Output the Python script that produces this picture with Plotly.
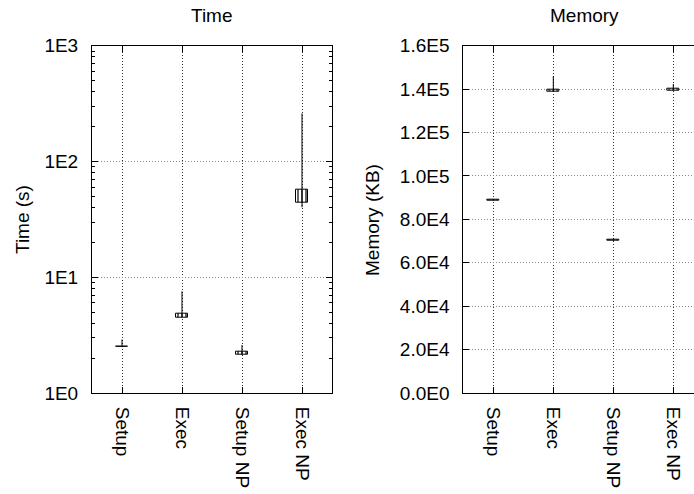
import plotly.graph_objects as go

categories = ["Setup", "Exec", "Setup NP", "Exec NP"]
cat_pos = [1, 2, 3, 4]

# Time (s): box bottom/top, whisker low/high
time_open = [2.49, 4.51, 2.14, 44.0]
time_close = [2.51, 4.81, 2.29, 57.4]
time_low = [2.49, 4.51, 2.14, 40.2]
time_high = [2.9, 7.55, 2.6, 260.0]

# Memory (KB)
mem_open = [88700, 138700, 70200, 139300]
mem_close = [89200, 139950, 70700, 140400]
mem_low = [88700, 138700, 70200, 139300]
mem_high = [89200, 146000, 70700, 142400]

time_ticks = [1, 10, 100, 1000]
time_ticktext = ["1E0", "1E1", "1E2", "1E3"]
time_minor = [m * d for d in [1, 10, 100] for m in range(2, 10)]
mem_ticks = [0, 20000, 40000, 60000, 80000, 100000, 120000, 140000, 160000]
mem_ticktext = ["0.0E0", "2.0E4", "4.0E4", "6.0E4", "8.0E4", "1.0E5", "1.2E5", "1.4E5", "1.6E5"]

W, H = 694, 494
FONT = "Liberation Sans, Arial, sans-serif"
FS = 19

fig = go.Figure()

def add_panel(xa, ya, opn, cls, low, high):
    xs, ys = [], []
    for x, lo, hi in zip(cat_pos, low, high):
        xs += [x, x, None]
        ys += [lo, hi, None]
    fig.add_trace(go.Scatter(x=xs, y=ys, mode="lines", line=dict(color="black", width=1),
                             xaxis=xa, yaxis=ya, showlegend=False, hoverinfo="skip"))
    fig.add_trace(go.Bar(x=cat_pos, y=[c - o for o, c in zip(opn, cls)], base=opn, width=0.21,
                         marker=dict(color="white", line=dict(color="black", width=1),
                                     pattern=dict(shape="|", fgcolor="black", bgcolor="white",
                                                  size=4, solidity=0.3)),
                         xaxis=xa, yaxis=ya, showlegend=False))

add_panel("x", "y", time_open, time_close, time_low, time_high)
add_panel("x2", "y2", mem_open, mem_close, mem_low, mem_high)

left_dom = [92 / W, 332 / W]
right_dom = [463.3 / W, 1.0]
ydom = [(H - 393) / H, (H - 45.7) / H]

tfont = dict(family=FONT, size=FS, color="black")
DOT = "1px,2px"

xcommon = dict(tickmode="array", tickvals=cat_pos, ticktext=categories, tickangle=90,
               showline=True, linecolor="black", linewidth=1, mirror="ticks",
               ticks="inside", ticklen=6, tickcolor="black",
               showgrid=True, gridcolor="#333333", griddash=DOT, gridwidth=1,
               zeroline=False, tickfont=tfont, ticklabelstandoff=9, automargin=False)

fig.update_layout(
    template="none",
    width=W, height=H, margin=dict(l=0, r=0, t=0, b=0, pad=0),
    paper_bgcolor="white", plot_bgcolor="white", bargap=0, barmode="overlay",
    xaxis=dict(domain=left_dom, range=[0.5, 4.5], anchor="y", **xcommon),
    xaxis2=dict(domain=right_dom, range=[0.5, 0.5 + (W - 463.3) / 60], anchor="y2", **xcommon),
    yaxis=dict(domain=ydom, type="log", range=[0, 3], anchor="x", automargin=False,
               tickmode="array", tickvals=time_ticks, ticktext=time_ticktext,
               showline=True, linecolor="black", linewidth=1, mirror="ticks",
               ticks="inside", ticklen=6, tickcolor="black", zeroline=False,
               minor=dict(tickmode="array", tickvals=time_minor, ticks="inside", ticklen=3,
                          tickcolor="black", showgrid=False),
               showgrid=True, gridcolor="#888888", griddash=DOT, gridwidth=1,
               tickfont=tfont, ticklabelstandoff=9),
    yaxis2=dict(domain=ydom, range=[0, 160000], anchor="x2", automargin=False,
                tickmode="array", tickvals=mem_ticks, ticktext=mem_ticktext,
                showline=True, linecolor="black", linewidth=1, mirror=False,
                ticks="inside", ticklen=6, tickcolor="black", zeroline=False,
                showgrid=True, gridcolor="#888888", griddash=DOT, gridwidth=1,
                tickfont=tfont, ticklabelstandoff=9),
    annotations=[
        dict(text="Time", x=212 / W, y=(H - 16) / H, xref="paper", yref="paper", showarrow=False,
             font=tfont, xanchor="center", yanchor="middle"),
        dict(text="Memory", x=584 / W, y=(H - 16) / H, xref="paper", yref="paper", showarrow=False,
             font=tfont, xanchor="center", yanchor="middle"),
        dict(text="Time (s)", x=22 / W, y=(H - 220) / H, xref="paper", yref="paper", showarrow=False,
             textangle=-90, font=tfont, xanchor="center", yanchor="middle"),
        dict(text="Memory (KB)", x=372 / W, y=(H - 220) / H, xref="paper", yref="paper", showarrow=False,
             textangle=-90, font=tfont, xanchor="center", yanchor="middle"),
    ],
)

fig.write_html("out.html")
